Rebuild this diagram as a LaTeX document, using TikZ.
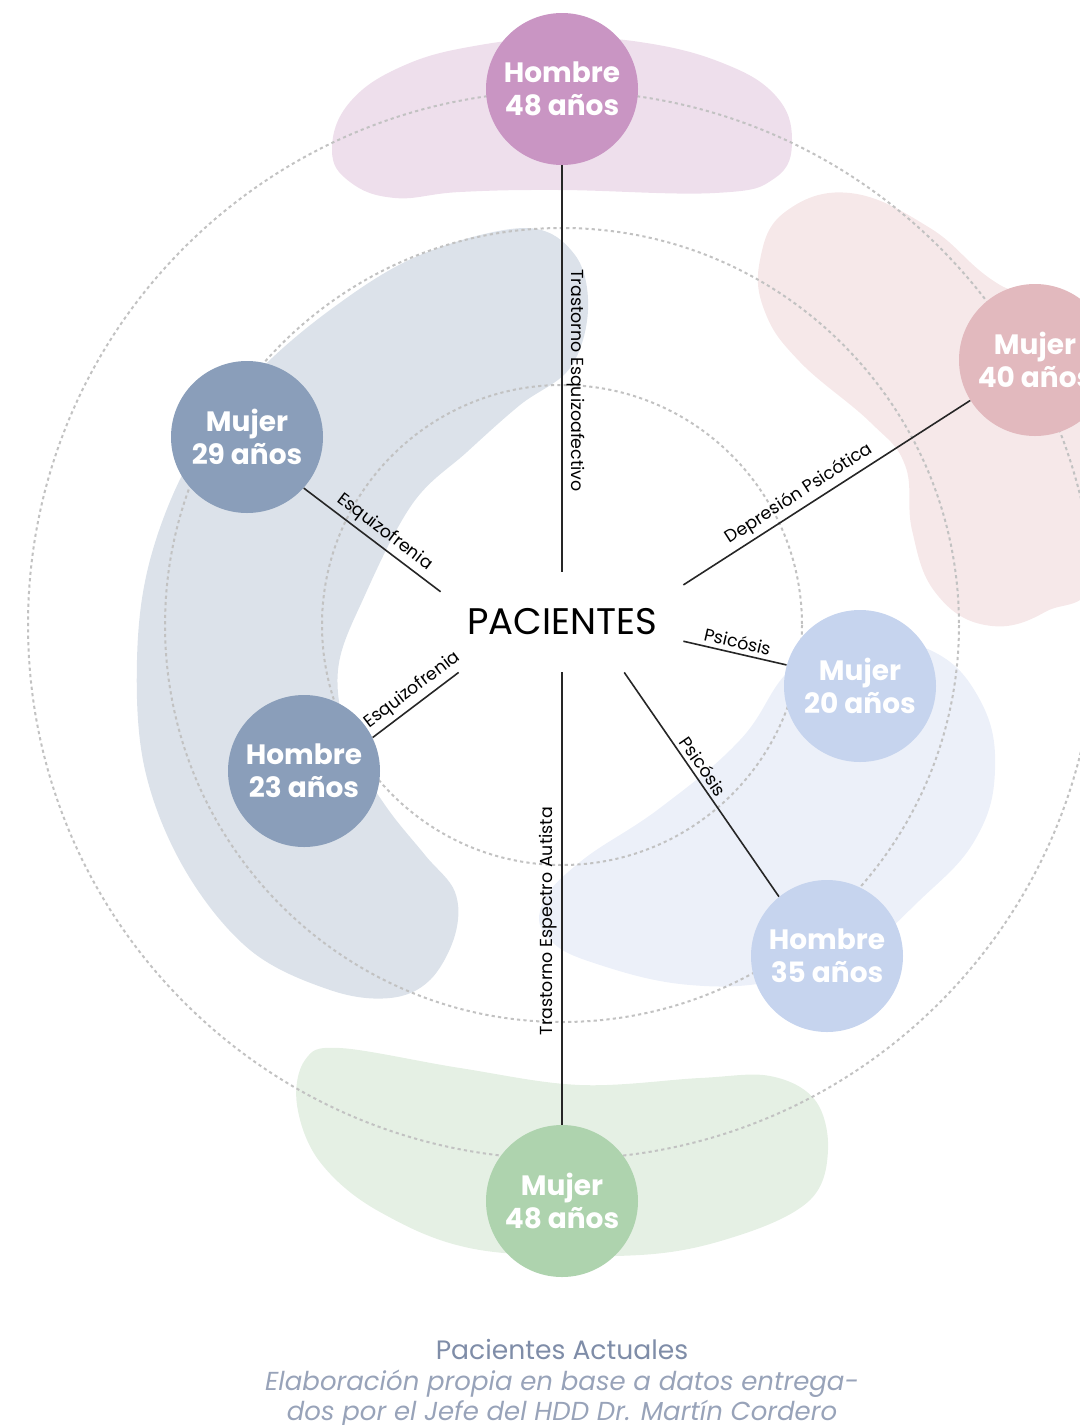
\documentclass[tikz,border=0pt]{standalone}
\usepackage{fontspec}
\setmainfont{Poppins}

\definecolor{nodeLila}{HTML}{C995C3}
\definecolor{nodeRosa}{HTML}{E2B9BE}
\definecolor{nodeAzul}{HTML}{8A9EBA}
\definecolor{nodeCeleste}{HTML}{C6D4EE}
\definecolor{nodeVerde}{HTML}{AED3AE}
\definecolor{blobLila}{HTML}{EEDFEC}
\definecolor{blobRosa}{HTML}{F6E8E9}
\definecolor{blobAzul}{HTML}{DCE2EA}
\definecolor{blobCeleste}{HTML}{ECF0F9}
\definecolor{blobVerde}{HTML}{E5F0E4}
\definecolor{capTitle}{HTML}{7F8DA8}
\definecolor{capText}{HTML}{98A3B9}

\begin{document}
\begin{tikzpicture}[x=0.5pt, y=-0.5pt,
    patient/.style={circle, minimum size=76pt, inner sep=0pt, text=white, align=center,
                    font=\bfseries\fontsize{14}{16.5}\selectfont},
    link/.style={draw=black!85, line width=0.8pt},
    tag/.style={font=\fontsize{8.7}{10}\selectfont, inner sep=2pt, sloped, above},
    ring/.style={draw=black!24, line width=1pt, dash pattern=on 1.6pt off 1.6pt}]

    \useasboundingbox (0,0) rectangle (1080,1425);
    \clip (0,0) rectangle (1080,1425);

    % manchas de fondo
    \fill[blobLila] plot[smooth cycle, tension=0.7] coordinates {
        (332,150) (350,102) (405,65) (480,45) (560,38) (640,42) (720,62) (775,95)
        (792,140) (775,178) (715,193) (560,190) (460,192) (395,198) (350,182)};
    \fill[blobRosa] plot[smooth cycle, tension=0.7] coordinates {
        (760,260) (785,212) (850,193) (930,228) (1000,285) (1100,330) (1100,560)
        (1045,612) (985,625) (935,592) (912,530) (905,465) (870,422) (800,362) (765,312)};
    \fill[blobAzul] plot[smooth cycle, tension=0.6] coordinates {
        (525,228) (575,255) (588,310) (570,368) (520,405) (467,452) (413,503)
        (365,595) (338,670) (350,745) (385,805) (425,855) (455,892) (455,935)
        (430,980) (390,998) (330,990) (250,950) (185,870) (145,770) (137,660)
        (150,560) (190,460) (250,380) (330,310) (420,255)};
    \fill[blobCeleste] plot[smooth cycle, tension=0.7] coordinates {
        (542,905) (580,862) (660,808) (740,740) (790,670) (850,640) (930,650)
        (980,700) (995,770) (975,840) (920,900) (860,950) (780,980) (690,985)
        (600,965) (550,940)};
    \fill[blobVerde] plot[smooth cycle, tension=0.6] coordinates {
        (305,1060) (340,1048) (460,1068) (580,1085) (700,1078) (770,1076)
        (815,1100) (828,1150) (810,1200) (740,1235) (640,1255) (480,1250)
        (380,1212) (320,1162) (297,1105)};

    % anillos
    \coordinate (c) at (562,625);
    \foreach \r in {240,397,534}
        \draw[ring] (c) circle[radius=\r];

    % pacientes
    \node[minimum width=121pt, minimum height=50pt, inner sep=0pt,
          font=\fontsize{18.5}{22}\selectfont] (pac) at (562,622) {PACIENTES};

    \node[patient, fill=nodeLila]    (h48) at (562,89)   {Hombre\\48 años};
    \node[patient, fill=nodeRosa]    (m40) at (1035,360) {Mujer\\40 años};
    \node[patient, fill=nodeAzul]    (m29) at (247,437)  {Mujer\\29 años};
    \node[patient, fill=nodeAzul]    (h23) at (304,771)  {Hombre\\23 años};
    \node[patient, fill=nodeCeleste] (m20) at (860,686)  {Mujer\\20 años};
    \node[patient, fill=nodeCeleste] (h35) at (827,956)  {Hombre\\35 años};
    \node[patient, fill=nodeVerde]   (m48) at (562,1201) {Mujer\\48 años};

    % diagnosticos
    \draw[link] (h48) -- node[pos=0.53, rotate=-90, anchor=south, inner sep=2pt,
                               font=\fontsize{8.7}{10}\selectfont] {Trastorno Esquizoafectivo} (pac.north);
    \draw[link] (pac.17) -- node[tag, pos=0.43] {Depresión Psicótica} (m40.212);
    \draw[link] (pac.-9) -- node[tag, pos=0.5] {Psicósis} (m20.164);
    \draw[link] (pac.-39) -- node[tag, pos=0.45] {Psicósis} (h35.129);
    \draw[link] (m48) -- node[pos=0.45, rotate=90, anchor=south, inner sep=2pt,
                               font=\fontsize{8.7}{10}\selectfont] {Trastorno Espectro Autista} (pac.south);
    \draw[link] (h23.26) -- node[tag, pos=0.56] {Esquizofrenia} (pac.206);
    \draw[link] (m29.-42) -- node[tag, pos=0.53] {Esquizofrenia} (pac.166);

    % fuente
    \node[font=\fontsize{13.3}{15}\selectfont, text=capTitle] (tit) at (562,1349) {Pacientes Actuales};
    \node[font=\itshape\fontsize{13}{15}\selectfont, text=capText, align=center] (src) at (562,1399)
        {Elaboración propia en base a datos entrega-\\dos por el Jefe del HDD Dr. Martín Cordero};
\end{tikzpicture}
\end{document}
